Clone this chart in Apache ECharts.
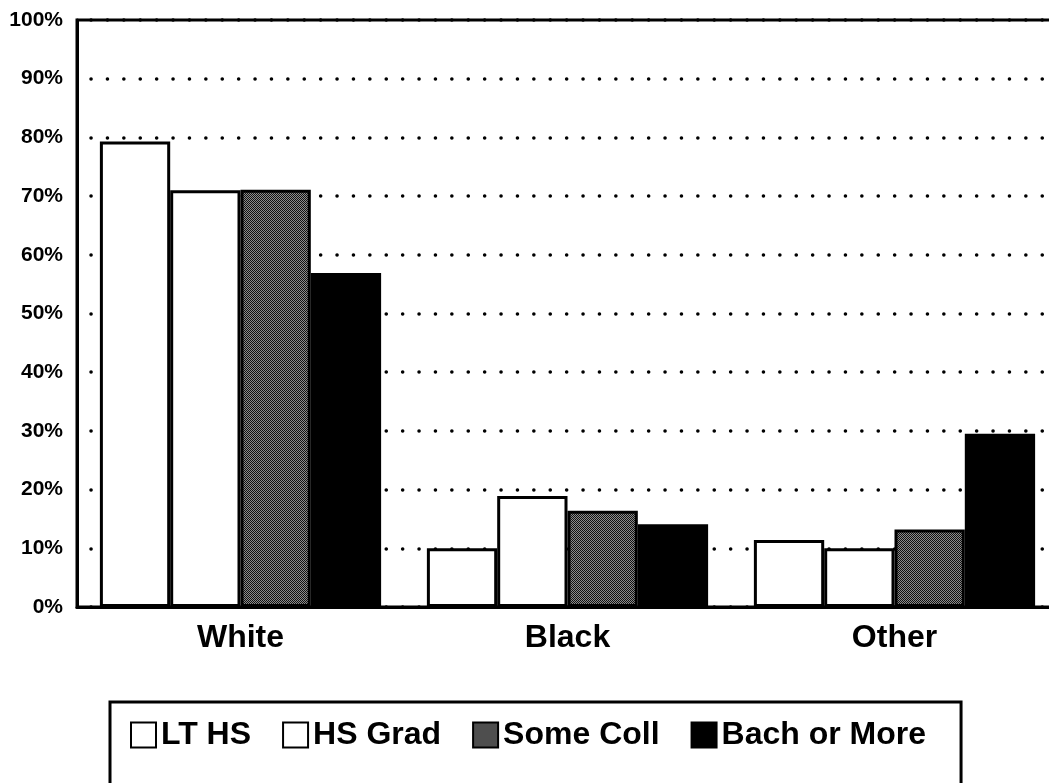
<!DOCTYPE html>
<html>
<head>
<meta charset="utf-8">
<script src="https://cdn.jsdelivr.net/npm/echarts@6/dist/echarts.min.js"></script>
<style>
html,body{margin:0;padding:0;background:#fff;}
#chart{width:1049px;height:783px;}
</style>
</head>
<body>
<div id="chart"></div>
<script>
const categories = ['White', 'Black', 'Other'];
const seriesNames = ['LT HS', 'HS Grad', 'Some Coll', 'Bach or More'];
const ltHs = [79.3, 10.0, 11.4];
const hsGrad = [71.0, 18.9, 10.0];
const someColl = [71.1, 16.4, 13.2];
const bachOrMore = [56.9, 14.1, 29.5];
const yTicks = [0, 10, 20, 30, 40, 50, 60, 70, 80, 90, 100];

const FONT = "'Liberation Sans', Arial, Helvetica, sans-serif";

// halftone-like pattern for "Some Coll"
const pc = document.createElement('canvas');
pc.width = 2; pc.height = 2;
const pctx = pc.getContext('2d');
pctx.fillStyle = '#111'; pctx.fillRect(0, 0, 2, 2);
pctx.fillStyle = '#8c8c8c'; pctx.fillRect(1, 0, 1, 1); pctx.fillRect(0, 1, 1, 1);
const someCollFill = { image: pc, repeat: 'repeat' };

const fills = ['#ffffff', '#ffffff', someCollFill, '#000000'];
const values = [ltHs, hsGrad, someColl, bachOrMore];

const chart = echarts.init(document.getElementById('chart'), null, { renderer: 'canvas' });
chart.setOption({
  animation: false,
  backgroundColor: '#fff',
  grid: {
    left: 77, top: 20, width: 981, bottom: 176,
    outerBoundsMode: 'none',
    containLabel: false,
    show: true, borderColor: '#000', borderWidth: 3, backgroundColor: 'transparent'
  },
  legend: {
    data: seriesNames,
    left: 110, top: 702,
    orient: 'horizontal',
    itemWidth: 25, itemHeight: 25, itemGap: 31,
    padding: [17, 35, 60, 20],
    borderColor: '#000', borderWidth: 3,
    selectedMode: false,
    icon: 'rect',
    itemStyle: { borderColor: '#000', borderWidth: 2 },
    textStyle: { fontFamily: FONT, fontSize: 32, fontWeight: 'bold', color: '#000' }
  },
  xAxis: {
    type: 'category',
    data: categories,
    axisLine: { show: true, lineStyle: { color: '#000', width: 3 } },
    axisTick: { show: false },
    axisLabel: { fontFamily: FONT, fontSize: 32, fontWeight: 'bold', color: '#000', margin: 15 },
    splitLine: { show: false }
  },
  yAxis: {
    type: 'value',
    min: yTicks[0], max: yTicks[yTicks.length - 1], interval: 10,
    axisLine: { show: true, lineStyle: { color: '#000', width: 3 } },
    axisTick: { show: false },
    axisLabel: { fontFamily: FONT, fontSize: 21, fontWeight: 'bold', color: '#000', margin: 14, formatter: '{value}%' },
    splitLine: { show: true, lineStyle: { color: '#000', width: 3.5, type: [0.1, 16.3], cap: 'round', dashOffset: -14 } }
  },
  series: seriesNames.map((name, i) => ({
    name: name,
    type: 'bar',
    data: values[i],
    barGap: '0%',
    barCategoryGap: '14%',
    itemStyle: { color: fills[i], borderColor: '#000', borderWidth: 3 }
  }))
});
</script>
</body>
</html>
